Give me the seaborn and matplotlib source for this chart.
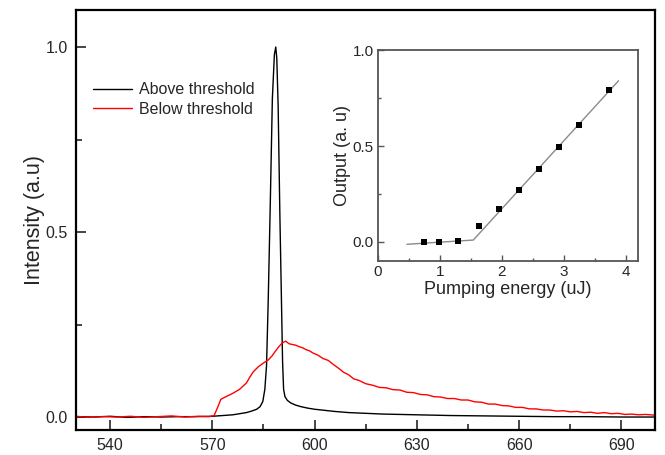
import numpy as np
import pandas as pd
import matplotlib
matplotlib.use("Agg")
import matplotlib.pyplot as plt
from matplotlib.ticker import MultipleLocator
import seaborn as sns

sns.set_style("ticks")
plt.rcParams['font.family'] = ['Liberation Sans', 'DejaVu Sans']

# Emission spectra (wavelength in nm, normalised intensity)
above_nm = [530, 535, 540, 545, 550, 555, 560, 565, 570, 573, 576, 578, 580, 581.5, 583,
            584, 584.8, 585.4, 585.9, 586.4, 587, 587.6, 588.2, 588.6, 588.9, 589.3, 589.8,
            590.3, 590.6, 590.9, 591.3, 592, 593, 594.5, 596, 598, 600, 603, 606, 610, 615,
            620, 625, 630, 640, 650, 660, 670, 680, 690, 700]
above_int = [0.001, 0.0, 0.002, -0.001, 0.001, 0.0, 0.001, 0.001, 0.002, 0.004, 0.006, 0.009,
             0.012, 0.016, 0.021, 0.028, 0.042, 0.075, 0.14, 0.32, 0.58, 0.86, 0.98, 1.0, 0.97,
             0.84, 0.55, 0.30, 0.15, 0.075, 0.055, 0.045, 0.038, 0.032, 0.028, 0.024, 0.021,
             0.018, 0.015, 0.012, 0.010, 0.008, 0.007, 0.006, 0.004, 0.003, 0.002, 0.001,
             0.001, 0.0, 0.0]

below_nm = [530, 534, 538, 542, 546, 550, 554, 558, 562, 566, 569, 570.5, 571.5, 572.5, 574,
            576, 578, 580, 581, 582, 583.5, 585, 586.5, 587.5, 588.5, 589.5, 590.5, 591.5,
            592.5, 593.5, 594.5, 595.5, 596.5, 597.5, 598.5, 599.5, 601, 602.5, 604, 605.5,
            607, 608.5, 610, 611.5, 613, 615, 617, 619, 621, 623, 625, 627, 629, 631, 633,
            635, 637, 639, 641, 643, 645, 647, 649, 651, 653, 655, 657, 659, 661, 663, 665,
            667, 669, 671, 673, 675, 677, 679, 681, 683, 685, 687, 689, 691, 693, 695, 697, 700]
below_int = [0.002, -0.001, 0.001, 0.0, 0.002, -0.001, 0.001, 0.003, 0.0, 0.002, 0.001, 0.004,
             0.025, 0.048, 0.055, 0.064, 0.075, 0.092, 0.108, 0.122, 0.136, 0.146, 0.155, 0.165,
             0.178, 0.19, 0.2, 0.205, 0.198, 0.196, 0.194, 0.19, 0.187, 0.182, 0.179, 0.173,
             0.167, 0.158, 0.153, 0.142, 0.132, 0.121, 0.114, 0.103, 0.099, 0.09, 0.086, 0.08,
             0.079, 0.074, 0.073, 0.067, 0.066, 0.061, 0.06, 0.055, 0.054, 0.05, 0.05, 0.046,
             0.046, 0.041, 0.04, 0.035, 0.035, 0.031, 0.03, 0.026, 0.026, 0.022, 0.022, 0.019,
             0.019, 0.016, 0.017, 0.014, 0.015, 0.012, 0.013, 0.01, 0.012, 0.009, 0.01, 0.007,
             0.008, 0.006, 0.007, 0.005]

# Inset: output vs pumping energy
pump_energy = [0.74, 0.98, 1.30, 1.63, 1.95, 2.27, 2.60, 2.92, 3.24, 3.73]
pump_output = [0.0, 0.0, 0.005, 0.085, 0.17, 0.27, 0.38, 0.495, 0.61, 0.79]
fit_x = [0.47, 1.54, 3.88]
fit_y = [-0.012, 0.01, 0.84]

spec = pd.concat([
    pd.DataFrame({"nm": above_nm, "I": above_int, "s": "Above threshold"}),
    pd.DataFrame({"nm": below_nm, "I": below_int, "s": "Below threshold"}),
])

fig = plt.figure(figsize=(6.65, 4.55), dpi=100)
ax = fig.add_axes([0.1143, 0.055, 0.8714, 0.923])

sns.lineplot(data=spec, x="nm", y="I", hue="s", palette=["black", "#ff0000"],
             linewidth=1.0, sort=False, estimator=None, ax=ax)

ax.set_xlim(530, 700)
ax.set_ylim(-0.035, 1.1)
ax.set_xticks([540, 570, 600, 630, 660, 690])
ax.set_yticks([0.0, 0.5, 1.0])
ax.set_yticklabels(["0.0", "0.5", "1.0"])
ax.xaxis.set_minor_locator(MultipleLocator(15))
ax.yaxis.set_minor_locator(MultipleLocator(0.25))
ax.tick_params(which="major", direction="in", length=7, width=1.2, labelsize=11.5, pad=6)
ax.tick_params(which="minor", direction="in", length=4, width=1.2)
ax.set_xlabel("")
ax.set_ylabel("Intensity (a.u)", fontsize=15.5, labelpad=0)
for sp in ax.spines.values():
    sp.set_linewidth(1.6)
    sp.set_color("black")

ax.legend(loc="upper left", bbox_to_anchor=(0.029, 0.828), frameon=False, fontsize=11.5,
          borderaxespad=0, borderpad=0, handlelength=2.45, handletextpad=0.45,
          labelspacing=0.3)

# Inset
ins = fig.add_axes([0.568, 0.426, 0.392, 0.464])
sns.lineplot(x=fit_x, y=fit_y, color="#8a8a8a", linewidth=1.0, ax=ins)
sns.scatterplot(x=pump_energy, y=pump_output, marker="s", color="black", s=16,
                edgecolor="black", linewidth=0, zorder=3, ax=ins)
ins.set_xlim(0, 4.2)
ins.set_ylim(-0.1, 1.0)
ins.set_xticks([0, 1, 2, 3, 4])
ins.set_yticks([0.0, 0.5, 1.0])
ins.set_yticklabels(["0.0", "0.5", "1.0"])
ins.xaxis.set_minor_locator(MultipleLocator(0.5))
ins.yaxis.set_minor_locator(MultipleLocator(0.25))
ins.tick_params(which="major", direction="in", length=4, width=1.0, labelsize=11, pad=3,
                color="#555555")
ins.tick_params(which="minor", direction="in", length=2.5, width=1.0, color="#555555")
ins.set_xlabel("Pumping energy (uJ)", fontsize=13, labelpad=1)
ins.set_ylabel("Output (a. u)", fontsize=13, labelpad=1)
for sp in ins.spines.values():
    sp.set_linewidth(1.3)
    sp.set_color("#555555")

fig.savefig("out.png", dpi=100)
